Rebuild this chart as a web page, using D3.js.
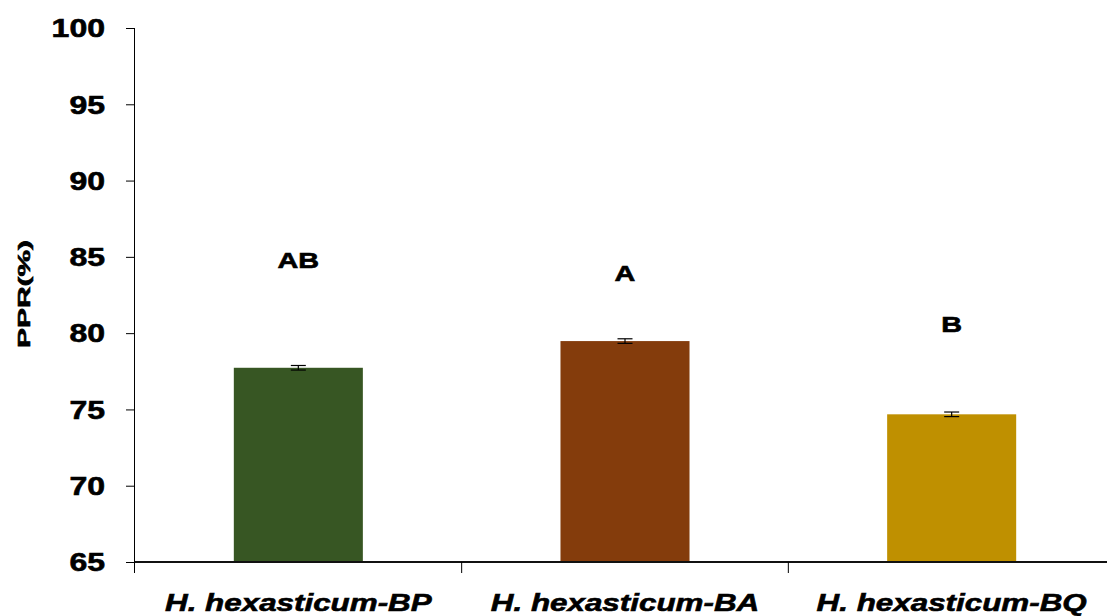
<!DOCTYPE html>
<html>
<head>
<meta charset="utf-8">
<script src="https://cdn.jsdelivr.net/npm/d3@7"></script>
<style>
  html, body { margin: 0; padding: 0; background: #fff; }
  svg { display: block; }
  text { font-family: "Liberation Sans", Arial, sans-serif; font-weight: bold; fill: #000;
         stroke: #000; stroke-width: 0.6px; }
</style>
</head>
<body>
<svg id="chart" width="1107" height="616"></svg>
<script>
// PPR (%) by seed source, mean ± SE, with significance letters
const categories = ["H. hexasticum-BP", "H. hexasticum-BA", "H. hexasticum-BQ"];
const pprMean = [77.73, 79.48, 74.68];
const pprErr = [0.15, 0.15, 0.15];
const groupLetters = ["AB", "A", "B"];
const letterLevel = [84.3, 83.4, 80.1];
const barColors = ["#375623", "#843C0C", "#BF9000"];
const yTicks = [65, 70, 75, 80, 85, 90, 95, 100];

const rows = categories.map((c, i) => ({
  cat: c, mean: pprMean[i], err: pprErr[i],
  letter: groupLetters[i], letterAt: letterLevel[i], color: barColors[i]
}));

const svg = d3.select("#chart");
const STRETCH = 1.28;   // wide lettering used throughout the figure

const y = d3.scaleLinear().domain([65, 100]).range([562, 28]);
const x = d3.scaleBand().domain(categories).range([135, 1115]).padding(0);
const barW = x.bandwidth() * 0.395;

// bars
svg.append("g").selectAll("rect").data(rows).join("rect")
  .attr("x", d => x(d.cat) + x.bandwidth() / 2 - barW / 2)
  .attr("width", barW)
  .attr("y", d => y(d.mean))
  .attr("height", d => y(65) - y(d.mean))
  .attr("fill", d => d.color);

// error bars
const eb = svg.append("g").attr("stroke", "#000").attr("stroke-width", 1.2);
rows.forEach(d => {
  const cx = x(d.cat) + x.bandwidth() / 2;
  eb.append("line").attr("x1", cx).attr("x2", cx).attr("y1", y(d.mean + d.err)).attr("y2", y(d.mean - d.err));
  eb.append("line").attr("x1", cx - 7.5).attr("x2", cx + 7.5).attr("y1", y(d.mean + d.err)).attr("y2", y(d.mean + d.err));
  eb.append("line").attr("x1", cx - 7.5).attr("x2", cx + 7.5).attr("y1", y(d.mean - d.err)).attr("y2", y(d.mean - d.err));
});

// significance letters
svg.append("g").selectAll("text").data(rows).join("text")
  .attr("class", "stretch")
  .attr("x", d => x(d.cat) + x.bandwidth() / 2)
  .attr("y", d => y(d.letterAt))
  .attr("text-anchor", "middle")
  .style("font-size", "22.5px")
  .text(d => d.letter);

// y axis
const yAxis = svg.append("g").attr("transform", "translate(135,0)")
  .call(d3.axisLeft(y).tickValues(yTicks).tickSize(9).tickPadding(21).tickFormat(d3.format("d")));
yAxis.select(".domain").attr("d", `M-0.5,${y(100)}V573`).attr("stroke", "#000");
yAxis.selectAll(".tick line").attr("stroke", "#000");
yAxis.selectAll(".tick text").attr("class", "stretch")
  .style("font-size", "25px").style("font-family", "'Liberation Sans', Arial, sans-serif")
  .style("font-weight", "bold").attr("dy", "0.35em");

// x axis: baseline, boundary ticks, category labels
const bounds = categories.map(c => x(c)).concat([x.range()[1]]);
svg.append("line").attr("x1", 135).attr("x2", 1115).attr("y1", 562).attr("y2", 562)
  .attr("stroke", "#111").attr("stroke-width", 1.8);
svg.append("g").selectAll("line").data(bounds.slice(1)).join("line")
  .attr("x1", d => d).attr("x2", d => d).attr("y1", 562).attr("y2", 573)
  .attr("stroke", "#000");
const xAxis = svg.append("g").attr("transform", "translate(0,562)")
  .call(d3.axisBottom(x).tickSize(0).tickPadding(0));
xAxis.select(".domain").remove();
xAxis.selectAll(".tick text").attr("class", "stretch")
  .attr("y", 49).attr("dy", 0)
  .style("font-size", "24.5px").style("font-style", "italic")
  .style("font-family", "'Liberation Sans', Arial, sans-serif").style("font-weight", "bold");

// y axis title
svg.append("text")
  .attr("id", "ytitle")
  .attr("transform", "translate(30,294) rotate(-90)")
  .attr("text-anchor", "middle")
  .style("font-size", "17px")
  .text("PPR(%)");

// widen lettering horizontally
svg.selectAll("text.stretch").each(function () {
  const w = this.getComputedTextLength();
  d3.select(this).attr("textLength", w * STRETCH).attr("lengthAdjust", "spacingAndGlyphs");
});
d3.select("#ytitle").attr("textLength", 108).attr("lengthAdjust", "spacingAndGlyphs");
</script>
</body>
</html>
